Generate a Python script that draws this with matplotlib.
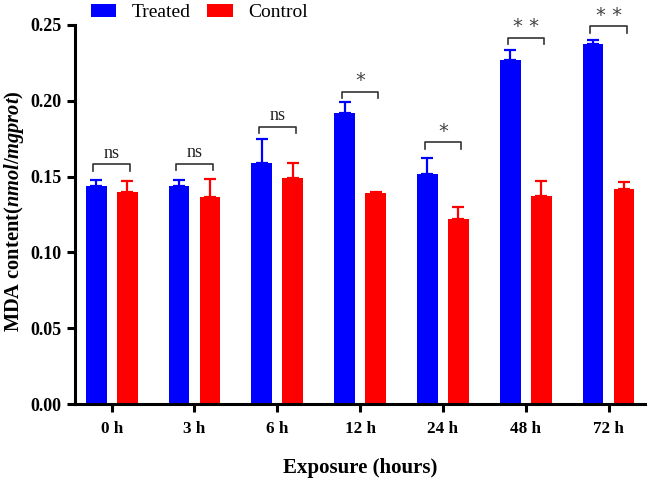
import matplotlib
matplotlib.use("Agg")
import matplotlib.pyplot as plt
import numpy as np

categories = ["0 h", "3 h", "6 h", "12 h", "24 h", "48 h", "72 h"]
treated = [0.144, 0.144, 0.159, 0.192, 0.152, 0.227, 0.2375]
treated_err = [0.004, 0.004, 0.016, 0.007, 0.0105, 0.0068, 0.0027]
control = [0.140, 0.1365, 0.149, 0.1395, 0.122, 0.137, 0.1415]
control_err = [0.007, 0.012, 0.010, 0.0006, 0.0078, 0.010, 0.005]
sig_labels = ["ns", "ns", "ns", "*", "*", "**", "**"]
sig_heights = [0.158, 0.1585, 0.183, 0.206, 0.1725, 0.2415, 0.249]

plt.rcParams['font.family'] = ['Liberation Serif', 'DejaVu Serif']
plt.rcParams['mathtext.fontset'] = 'custom'
plt.rcParams['mathtext.rm'] = 'Liberation Serif:bold'
plt.rcParams['mathtext.it'] = 'Liberation Serif:italic:bold'
plt.rcParams['mathtext.bf'] = 'Liberation Serif:bold'

fig = plt.figure(figsize=(6.51, 4.8), dpi=100)
ax = fig.add_axes([0.1152, 0.1583, 0.9908 - 0.1152, 0.948 - 0.1583])

x = np.arange(len(categories))
w = 0.25
off = 0.187
blue = '#0000FF'
red = '#FF0000'
ax.bar(x - off, treated, w, color=blue, label='Treated', zorder=2)
ax.bar(x + off, control, w, color=red, label='Control', zorder=2)
ax.errorbar(x - off, treated, yerr=[np.zeros(len(x)), treated_err], fmt='none', ecolor=blue,
            elinewidth=1.6, capsize=4.5, capthick=1.6, zorder=1)
ax.errorbar(x + off, control, yerr=[np.zeros(len(x)), control_err], fmt='none', ecolor=red,
            elinewidth=1.6, capsize=4.5, capthick=1.6, zorder=1)

for xi, lab, h in zip(x, sig_labels, sig_heights):
    x0, x1 = xi - 0.22, xi + 0.22
    ax.plot([x0, x0, x1, x1], [h - 0.004, h, h, h - 0.004], color='#333333', lw=1.2, clip_on=False)
    if lab == 'ns':
        ax.text(xi, h + 0.0015, lab, ha='center', va='bottom', fontsize=13, color='#222222')
    else:
        ax.text(xi, h + 0.001, ' '.join(lab), ha='center', va='bottom', fontsize=14, color='#444444',
                family='DejaVu Sans')

ax.set_xlim(-0.443, 6.44)
ax.set_ylim(0, 0.25)
ax.set_yticks([0, 0.05, 0.10, 0.15, 0.20, 0.25])
ax.set_yticklabels(['0.00', '0.05', '0.10', '0.15', '0.20', '0.25'])
ax.set_xticks(x)
ax.set_xticklabels(categories)
for t in ax.get_xticklabels():
    t.set_fontweight('bold')
    t.set_fontsize(12.3)
for t in ax.get_yticklabels():
    t.set_fontweight('bold')
    t.set_fontsize(13)

for s in ['top', 'right']:
    ax.spines[s].set_visible(False)
for s in ['left', 'bottom']:
    ax.spines[s].set_linewidth(2.2)
ax.tick_params(axis='both', width=2.2, length=6, direction='out')
ax.tick_params(axis='x', pad=6)

ax.set_xlabel('Exposure (hours)', fontsize=15, fontweight='bold')
ax.xaxis.set_label_coords(0.5, -0.142)
ax.set_ylabel(r'MDA content($\mathit{nmol/mgprot}$)', fontsize=14.7, fontweight='bold')
ax.yaxis.set_label_coords(-0.086, 0.51)

fig.legend(loc='upper left', bbox_to_anchor=(0.113, 1.028), ncol=2, frameon=False, fontsize=14,
           handlelength=1.29, handleheight=0.62, columnspacing=0.86, handletextpad=0.8)

fig.savefig('out.png', dpi=100)
